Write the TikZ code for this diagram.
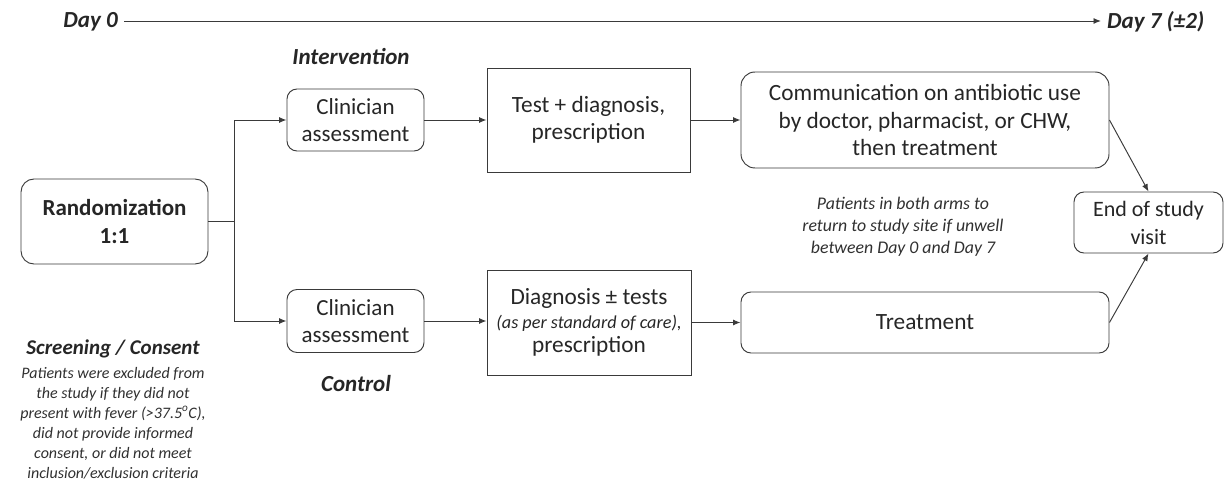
\documentclass[tikz,border=0pt]{standalone}
\usepackage{fontspec}
\setmainfont{Carlito}
\usetikzlibrary{arrows.meta}
\definecolor{ink}{HTML}{262626}
\definecolor{edge}{HTML}{3A3A3A}
\definecolor{note}{HTML}{303030}
\begin{document}
\begin{tikzpicture}[x=1pt,y=-1pt,
  box/.style={draw=edge, line width=0.95pt, text=ink, inner sep=0pt, align=center, anchor=center},
  rbox/.style={box, rounded corners=10pt},
  conn/.style={draw=edge, line width=0.95pt},
  arr/.style={conn, -{Latex[length=7.5pt,width=6pt]}},
  lbl/.style={text=ink, inner sep=0pt, align=center, font=\fontsize{23}{27}\selectfont\bfseries\itshape},
  big/.style={font=\fontsize{23.3}{27.5}\selectfont},
  mid/.style={font=\fontsize{23}{27}\selectfont}
]
\useasboundingbox (0,0) rectangle (1224,494);

% timeline
\node[lbl, anchor=east] (d0) at (118,22) {Day 0};
\node[lbl, anchor=west] (d7) at (1107,22) {Day 7 (±2)};
\coordinate (tl0) at ([xshift=6pt,yshift=1pt]d0.east);
\draw[arr] (tl0) -- ([xshift=-6pt]d7.west |- tl0);

% nodes
\node[rbox, rounded corners=13pt, minimum width=187pt, minimum height=85pt,
      font=\fontsize{23}{28}\selectfont\bfseries] (rand) at (114.5,221.5) {Randomization\\1:1};
\node[rbox, mid, minimum width=137pt, minimum height=62pt] (ca1) at (355.5,120) {Clinician\\assessment};
\node[box, big, minimum width=203pt, minimum height=104pt] (test) at (588.5,120) {Test + diagnosis,\\prescription};
\node[rbox, rounded corners=14pt, big, minimum width=368pt, minimum height=96pt] (comm) at (925,120) {Communication on antibiotic use\\by doctor, pharmacist, or CHW,\\then treatment};
\node[rbox, font=\fontsize{22}{28}\selectfont, minimum width=149pt, minimum height=61pt] (endv) at (1148.5,222.5) {End of study\\visit};

\node[rbox, mid, minimum width=137pt, minimum height=63pt] (ca2) at (355.5,321) {Clinician\\assessment};
\node[box, font=\fontsize{23.3}{24}\selectfont, minimum width=204pt, minimum height=105pt] (diag) at (589,322.5)
  {Diagnosis ± tests\\
   {\fontsize{18.2}{20}\selectfont\itshape (as per standard of care),}\\
   prescription};
\node[rbox, big, minimum width=368pt, minimum height=61pt] (treat) at (925,322.5) {Treatment};

% labels
\node[lbl] (intv) at (351,57) {Intervention};
\node[lbl] (ctrl) at (356,384) {Control};
\node[lbl, font=\fontsize{21}{24}\selectfont\bfseries\itshape] (scr) at (113,349) {Screening / Consent};
\node[text=note, inner sep=0pt, align=center, font=\fontsize{16}{20}\selectfont\itshape] (excl) at (113,423)
  {Patients were excluded from\\the study if they did not\\present with fever (>37.5\textsuperscript{o}C),\\did not provide informed\\consent, or did not meet\\inclusion/exclusion criteria};
\node[text=note, inner sep=0pt, align=center, font=\fontsize{17.8}{22}\selectfont\itshape] (ret) at (903,227)
  {Patients in both arms to\\return to study site if unwell\\between Day 0 and Day 7};

% connectors
\coordinate (split) at (234,221.5);
\draw[conn] (rand.east) -- (split);
\draw[arr] (split) |- (ca1.west);
\draw[arr] (split) |- (ca2.west);
\draw[arr] (ca1.east) -- (test.west);
\draw[arr] (test.east) -- (comm.west);
\draw[arr] (ca2.east) -- (ca2.east -| diag.west);
\draw[arr] (diag.east) -- (treat.west);
\draw[arr] (comm.east) -- (endv.north);
\draw[arr] (treat.east) -- (endv.south);
\end{tikzpicture}
\end{document}
